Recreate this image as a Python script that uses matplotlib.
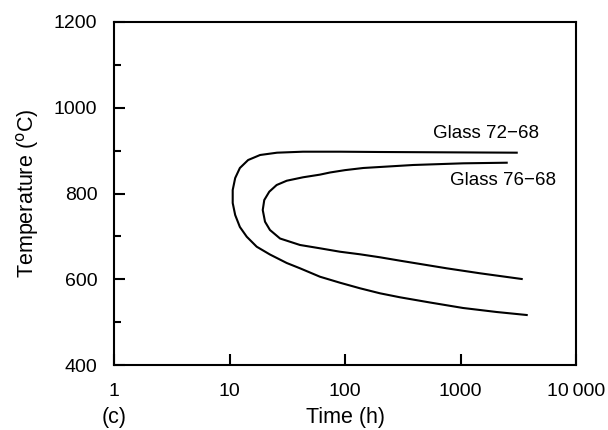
import matplotlib
matplotlib.use("Agg")
import matplotlib.pyplot as plt
from matplotlib.ticker import FixedLocator, NullFormatter

plt.rcParams['font.family'] = ['Liberation Sans', 'DejaVu Sans']

# Glass 72-68 (outer curve), traced from upper-right end round the nose to lower-right end
t_72 = [3067, 201, 90.5, 43.3, 25.8, 18.4, 14.5, 12.3, 11.2, 10.66, 10.66, 11.2, 12.3,
        14.1, 17.2, 22.4, 31.3, 40.8, 60.7, 90.5, 134.9, 201, 299.4, 544, 1051, 2058, 3743]
T_72 = [895.2, 896.8, 897.5, 897.5, 895.2, 889.8, 878.1, 859.5, 836.1, 808.2, 777.8, 749.8, 721.9,
        699.2, 675.9, 657.7, 637.9, 625.5, 605.9, 591.9, 578.9, 567.2, 557.9, 545.8, 533, 523.6, 516.6]

# Glass 76-68 (inner curve)
t_76 = [2512, 1057, 390, 144, 100, 74.2, 60.7, 43.3, 31.3, 25.6, 22.1, 20.0, 19.4, 20.3,
        22.4, 27.4, 40.8, 60.7, 90.5, 134.9, 201, 299.4, 760, 1475, 3388]
T_76 = [871.8, 870.4, 866.5, 859.5, 854.5, 849, 844, 837.8, 829.8, 819.8, 804.2, 784.8, 761.5, 734.2,
        714.9, 695, 679.9, 672.2, 664.2, 658.2, 651.2, 643.3, 625.5, 613.9, 600.6]

x_ticks = [1, 10, 100, 1000, 10000]
x_labels = ['1', '10', '100', '1000', '10\u2009000']
y_ticks = [400, 600, 800, 1000, 1200]
y_minor = [500, 700, 900, 1100]

fig = plt.figure(figsize=(6.08, 4.30), dpi=100)
ax = fig.add_axes([114/608, 1 - 365/430, (576-114)/608, (365-22)/430])

ax.plot(t_72, T_72, color='black', lw=1.5, solid_joinstyle='round')
ax.plot(t_76, T_76, color='black', lw=1.5, solid_joinstyle='round')

ax.set_xscale('log')
ax.set_xlim(1, 10000)
ax.set_ylim(400, 1200)

ax.xaxis.set_major_locator(FixedLocator(x_ticks))
ax.set_xticklabels(x_labels)
ax.xaxis.set_minor_locator(FixedLocator([]))
ax.xaxis.set_minor_formatter(NullFormatter())
ax.set_yticks(y_ticks)
ax.yaxis.set_minor_locator(FixedLocator(y_minor))

for s in ax.spines.values():
    s.set_linewidth(1.5)

ax.tick_params(axis='both', which='major', direction='in', length=8, width=1.5,
               labelsize=14, top=False, right=False)
ax.tick_params(axis='y', which='minor', direction='in', length=5, width=1.5, right=False)
ax.tick_params(axis='x', which='major', pad=13)
ax.tick_params(axis='y', which='major', pad=12)

ax.set_xlabel('Time (h)', fontsize=15.5, va='baseline')
ax.xaxis.set_label_coords(0.5, (365 - 423) / 343)
ax.set_ylabel('Temperature ($^{\\mathrm{o}}$C)', fontsize=15.5, labelpad=9)

fig.text(433/608, 1 - 134/430, 'Glass 72\u221268', fontsize=13.5, va='center', ha='left')
fig.text(450/608, 1 - 180/430, 'Glass 76\u221268', fontsize=13.5, va='center', ha='left')
fig.text(114/608, 1 - 423/430, '(c)', fontsize=15.5, ha='center', va='baseline')

fig.savefig('out.png', dpi=100)
